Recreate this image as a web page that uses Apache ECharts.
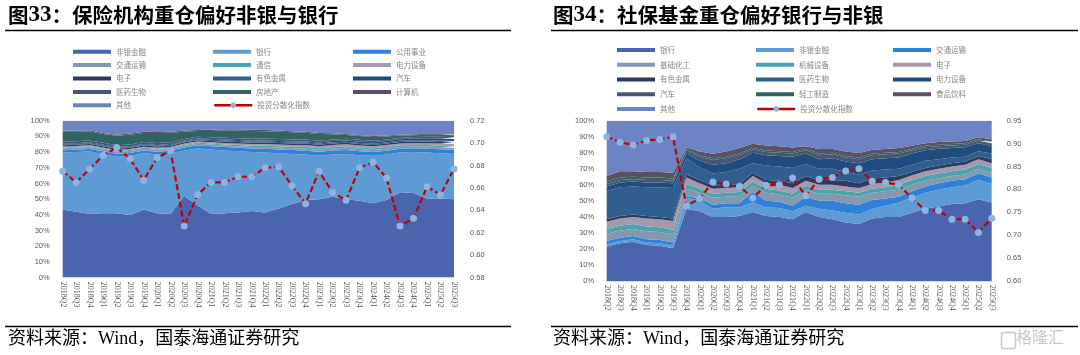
<!DOCTYPE html>
<html><head><meta charset="utf-8">
<script src="https://cdn.jsdelivr.net/npm/echarts@6/dist/echarts.min.js"></script>
<style>html,body{margin:0;padding:0;background:#fff}#c{width:1080px;height:355px}</style>
</head><body><div id="c"></div>
<script>
const quarters = ['2018Q2','2018Q3','2018Q4','2019Q1','2019Q2','2019Q3','2019Q4','2020Q1','2020Q2','2020Q3','2020Q4','2021Q1','2021Q2','2021Q3','2021Q4','2022Q1','2022Q2','2022Q3','2022Q4','2023Q1','2023Q2','2023Q3','2023Q4','2024Q1','2024Q2','2024Q3','2024Q4','2025Q1','2025Q2','2025Q3'];

// 图33 保险机构 (%)
const insNonbank     = [43.5,42,40.5,41,41,40,43.5,41,40.5,52,46,40.5,41,41.5,42.5,41.5,44,47,49.5,50,51.5,50,49,47.5,49.5,54.5,54,50.5,50.5,50];
const insBank        = [36.2,38,40,37.5,36,37.5,36,37.5,38.5,29,36.3,41.1,40,39,37.5,38.2,35.3,31.8,28.9,27.6,26.9,28.8,29,30.1,28.9,25.2,26,29.2,28.8,29];
const insUtility     = [1.5,1.5,1.5,2,2,2,1.5,1.8,1.8,2,2,2.2,2.2,2.3,2.3,2.4,2.4,2.5,2.5,2.6,2.6,2.6,2.6,2.5,2.5,2.4,2.4,2.5,2.5,2.5];
const insTransport   = [1.2,1.2,1.2,1.2,1.2,1.2,1.2,1.2,1.2,1,1,1,1,1,1,1.2,1.2,1.2,1.3,1.3,1.3,1.3,1.3,1.3,1.3,1.2,1.2,1.3,1.3,1.3];
const insTelecom     = [0.6,0.6,0.6,0.6,0.6,0.6,0.6,0.6,0.6,0.6,0.6,0.6,0.7,0.7,0.7,0.8,0.8,0.9,1,1,1,1.1,1.1,1.1,1.1,1,1,1,1,1];
const insPowerEq     = [0.6,0.6,0.6,0.6,0.6,0.6,0.6,0.7,0.7,0.8,0.8,0.9,0.9,1,1.1,1.1,1.2,1.2,1.3,1.3,1.3,1.2,1.2,1.2,1.2,1.2,1.2,1.2,1.3,1.3];
const insElectronics = [0.8,0.8,0.8,0.8,0.8,0.8,0.8,0.8,0.8,0.8,0.8,0.8,0.9,0.9,0.9,0.9,0.9,0.9,0.9,0.9,0.9,0.9,0.9,0.9,0.9,0.9,1,1,1.1,1.1];
const insMetals      = [0.5,0.5,0.5,0.5,0.5,0.5,0.5,0.5,0.5,0.5,0.6,0.7,0.7,0.7,0.7,0.7,0.7,0.7,0.7,0.7,0.7,0.7,0.7,0.7,0.7,0.8,0.8,0.9,0.9,0.9];
const insAuto        = [0.5,0.5,0.5,0.5,0.5,0.5,0.5,0.5,0.5,0.5,0.5,0.5,0.6,0.6,0.6,0.6,0.6,0.6,0.7,0.7,0.8,0.8,0.9,0.9,1,1,1,1.2,1.3,1.3];
const insPharma      = [1.2,1.2,1.2,1.2,1.2,1.2,1.2,1.2,1.2,1.2,1.2,1.2,1.2,1.2,1.2,1.2,1.2,1.2,1.2,1.2,1.1,1.1,1.1,1,1,1,1,1,1,1];
const insRealEstate  = [6.3,6.1,5.8,5.6,6.0,6.2,5.8,6.3,6.0,4.6,3.6,4.0,4.6,4.9,5.0,4.7,4.7,4.6,4.3,4.2,3.3,2.4,2.4,2.4,1.9,1.3,1.2,1.3,1.4,1.3];
const insComputer    = [0.7,0.7,0.7,0.7,0.7,0.7,0.7,0.7,0.7,0.7,0.7,0.7,0.7,0.7,0.7,0.7,0.7,0.7,0.7,0.7,0.6,0.6,0.6,0.6,0.6,0.5,0.5,0.5,0.5,0.5];
const insOther       = [6.4,6.3,6.1,7.8,8.9,8.2,7.1,7.2,7,6.3,5.9,5.8,5.5,5.5,5.8,6,6.3,6.7,7,7.8,8,8.5,9.2,9.8,9.4,9,8.7,8.4,8.4,8.8];
const insIndex       = [0.675,0.665,0.677,0.689,0.696,0.686,0.667,0.687,0.693,0.626,0.654,0.665,0.665,0.670,0.670,0.678,0.679,0.662,0.646,0.675,0.656,0.649,0.678,0.683,0.669,0.626,0.633,0.661,0.654,0.677];

// 图34 社保基金 (%)
const ssBank        = [21.5,23.5,24.5,22.5,22,20.5,45,43.5,40,40,40.5,43,40.5,40,38.5,43,40,38.5,36.5,35.5,39,40,40,42.5,45,46.5,48,48.5,51,49];
const ssNonbank     = [1.5,1.5,1.5,1.5,1.5,1.5,7,6.5,5,6,5.5,6,5.5,5.5,5,4,5,5.5,6,6,6,7,9,9.5,10,10.5,10.5,11,12,11.5];
const ssTransport   = [2,2,2,2,2,2,1,1.5,2.5,2.5,2.5,6.5,4,4,3.5,5.5,5,6,6,6,5.5,4.5,3.5,4,4,4,4,4,4,4];
const ssChem        = [4.5,4.5,4.5,5,5,5,4.5,3.5,4.5,4,4.5,3.5,5,4.5,5,4.5,4.5,4.5,5,5,4.5,4.5,4.5,4,3.5,3,3,3,3,3];
const ssMachinery   = [3,3,3,3,3,3,3,2.5,2.5,2.5,2.5,3,2.5,2.5,2.5,2.5,2.5,2.5,2.5,2.5,2.5,2.5,3,3,3,3,3,3,3,3];
const ssElectronics = [4.5,4.5,4.5,5,5,5.5,4,3.5,3,3,3,3.5,3.5,3.5,3.5,3,3,3,3,3,3,3,3,3,3,3,3,3,3,3];
const ssMetals      = [1.5,1.5,1.5,1.5,1.5,1.5,2,2,2,2,2,2,2,2.5,3,3,3,3,3.5,3,3.5,3,2.5,2,2,2,2,2,2,2.5];
const ssPharma      = [17.5,18,17.5,18,18.5,19,10,8,7.5,8,9.5,6,9,9,9.5,7.5,7,7,5.5,5.5,5,5,4.5,4.5,4.5,4,3.5,3,3,3.5];
const ssPowerEq     = [3,3,3,3,3,3,3,4,5.5,5.5,6,6.5,6.5,6.5,7,6.5,6,6.5,6.5,7,7,7,7,7,6.5,6.5,6,6,5,4.5];
const ssAuto        = [1.5,1.5,1.5,1.5,1.5,1.5,2,2.5,3,3,2.5,2,2,2,2,2,2.5,2.5,2.5,2.5,2.5,2.5,2.5,2,2,1.5,1.5,1.5,1.5,2];
const ssLight       = [1.5,1.5,1.5,1.5,1.5,1.5,1,1,1,1,1,1,1,1,1,1,1,1,1,1,1,1,1,1,1,1,1,1,1,1];
const ssFood        = [3.5,4,3.5,3.5,3.5,3.5,1,2.3,2.9,3.3,3.4,2.6,3.1,3,2.8,1.5,2.8,2.3,2.8,2.8,2.4,2.3,2.4,1.9,1.5,1.7,1.5,1.3,1.1,1.5];
const ssOther       = [34.5,31.5,31.5,32,32,32.5,16.5,19.2,20.6,19.2,17.1,14.4,15.4,16,16.7,16,17.7,17.7,19.2,20.2,18.1,17.7,17.1,15.6,14,13.3,13,12.7,10.4,11.5];
const ssIndex       = [0.915,0.903,0.897,0.907,0.909,0.915,0.764,0.780,0.816,0.812,0.807,0.781,0.809,0.810,0.825,0.786,0.822,0.826,0.840,0.845,0.818,0.815,0.810,0.781,0.754,0.754,0.735,0.735,0.706,0.737];

const layerColors = ['#4a65ad','#5e9bd4','#2e80d8','#8598b2','#4ba4aa','#a39aad','#2d3a62','#2f5e8f','#1f4b7e','#465673','#2f6462','#5b4f63','#6c84c4'];
const insNames = ['非银金融','银行','公用事业','交通运输','通信','电力设备','电子','有色金属','汽车','医药生物','房地产','计算机','其他'];
const insLayers = [insNonbank,insBank,insUtility,insTransport,insTelecom,insPowerEq,insElectronics,insMetals,insAuto,insPharma,insRealEstate,insComputer,insOther];
const ssNames = ['银行','非银金融','交通运输','基础化工','机械设备','电子','有色金属','医药生物','电力设备','汽车','轻工制造','食品饮料','其他'].map(n => n + '\u200b');
const ssLayers = [ssBank,ssNonbank,ssTransport,ssChem,ssMachinery,ssElectronics,ssMetals,ssPharma,ssPowerEq,ssAuto,ssLight,ssFood,ssOther];
const insIdxName = '投资分散化指数';
const ssIdxName = '投资分散化指数\u200b';

const chart = echarts.init(document.getElementById('c'), null, {renderer:'canvas'});
const axisLbl = {fontSize:7.5, color:'#595959', fontFamily:'Liberation Sans'};
const xLbl = {rotate:-90, interval:0, fontSize:8, color:'#595959', fontFamily:'Liberation Serif', margin:4};

function areaSeries(names, layers, colors, xi, yi, stack){
  return names.map((n,k)=>({
    name:n, type:'line', stack:stack, xAxisIndex:xi, yAxisIndex:yi,
    data:layers[k], symbol:'none', lineStyle:{width:0}, areaStyle:{opacity:1, color:colors[k]},
    itemStyle:{color:colors[k]}, emphasis:{disabled:true}, z:2
  }));
}
function idxSeries(name, data, xi, yi){
  return {name:name, type:'line', xAxisIndex:xi, yAxisIndex:yi, data:data,
    symbol:'circle', symbolSize:7, itemStyle:{color:'#8db4e2'},
    lineStyle:{color:'#c00000', width:2.2, type:[6,3]}, emphasis:{disabled:true}, z:5};
}
const legTxt = {fontSize:7.5, color:'#858585', fontFamily:'Noto Sans CJK SC', lineHeight:10};
function colLegend(names, left, top, gap){
  return {orient:'vertical', left:left, top:top, padding:0, itemGap:gap, itemWidth:38, itemHeight:4,
    selectedMode:false, textStyle:legTxt, formatter:n=>n.replace('\u200b',''),
    data:names.map(n=>({name:n, icon:'rect'}))};
}
function lineLegend(name, left, top){
  return {orient:'vertical', left:left, top:top, padding:0, itemWidth:38, itemHeight:7,
    selectedMode:false, textStyle:legTxt, formatter:n=>n.replace('\u200b',''),
    lineStyle:{type:'solid', width:2.5, color:'#c00000'}, data:[{name:name}]};
}
const g = 3.4, g2 = 4.75;
const titleRich = {
  a:{fontSize:20.5, fontWeight:'bold', fontFamily:'Noto Sans CJK SC', color:'#000'},
  b:{fontSize:23, fontWeight:'bold', fontFamily:'Liberation Serif', color:'#000'}
};
const srcFont = {fontSize:18, fontFamily:'"Liberation Serif","Noto Sans CJK SC"', fill:'#000'};

chart.setOption({
  animation:false,
  title:[
    {left:8, top:4, padding:0, text:'{a|图}{b|33}{a|：保险机构重仓偏好非银与银行}', textStyle:{rich:titleRich}},
    {left:553, top:4, padding:0, text:'{a|图}{b|34}{a|：社保基金重仓偏好银行与非银}', textStyle:{rich:titleRich}}
  ],
  legend:[
    colLegend([insNames[0],insNames[3],insNames[6],insNames[9],insNames[12]], 73, 46.7, g),
    colLegend([insNames[1],insNames[4],insNames[7],insNames[10]], 213, 46.7, g),
    colLegend([insNames[2],insNames[5],insNames[8],insNames[11]], 353, 46.7, g),
    lineLegend(insIdxName, 213, 100.3),
    colLegend([ssNames[0],ssNames[3],ssNames[6],ssNames[9],ssNames[12]], 617, 45, g2),
    colLegend([ssNames[1],ssNames[4],ssNames[7],ssNames[10]], 756, 45, g2),
    colLegend([ssNames[2],ssNames[5],ssNames[8],ssNames[11]], 893, 45, g2),
    lineLegend(ssIdxName, 756, 104)
  ],
  grid:[
    {left:62.7, top:120.7, width:391.3, height:157},
    {left:606.7, top:120.7, width:385, height:160.3}
  ],
  xAxis:[
    {type:'category', gridIndex:0, data:quarters, boundaryGap:false, axisTick:{show:false},
     axisLine:{lineStyle:{color:'#d9d9d9'}}, axisLabel:xLbl, splitLine:{show:false}, z:10},
    {type:'category', gridIndex:1, data:quarters, boundaryGap:false, axisTick:{show:false},
     axisLine:{lineStyle:{color:'#d9d9d9'}}, axisLabel:xLbl, splitLine:{show:false}, z:10}
  ],
  yAxis:[
    {type:'value', gridIndex:0, min:0, max:100, interval:10, splitLine:{show:false}, axisLine:{show:false},
     axisLabel:Object.assign({formatter:'{value}%', margin:13}, axisLbl)},
    {type:'value', gridIndex:0, position:'right', min:0.58, max:0.72, interval:0.02, splitLine:{show:false}, axisLine:{show:false},
     axisLabel:Object.assign({formatter:v=>v.toFixed(2), margin:16}, axisLbl)},
    {type:'value', gridIndex:1, min:0, max:100, interval:10, splitLine:{show:false}, axisLine:{show:false},
     axisLabel:Object.assign({formatter:'{value}%', margin:12.5}, axisLbl)},
    {type:'value', gridIndex:1, position:'right', min:0.6, max:0.95, interval:0.05, splitLine:{show:false}, axisLine:{show:false},
     axisLabel:Object.assign({formatter:v=>v.toFixed(2), margin:15}, axisLbl)}
  ],
  series:[].concat(
    areaSeries(insNames, insLayers, layerColors, 0, 0, 'ins'),
    [idxSeries(insIdxName, insIndex, 0, 1)],
    areaSeries(ssNames, ssLayers, layerColors, 1, 2, 'ss'),
    [idxSeries(ssIdxName, ssIndex, 1, 3)]
  ),
  graphic:[
    {type:'line', shape:{x1:5,y1:30.5,x2:511,y2:30.5}, style:{stroke:'#000', lineWidth:1.5}},
    {type:'line', shape:{x1:551,y1:30.5,x2:1078,y2:30.5}, style:{stroke:'#000', lineWidth:1.5}},
    {type:'line', shape:{x1:5,y1:326.5,x2:511,y2:326.5}, style:{stroke:'#000', lineWidth:1.5}},
    {type:'line', shape:{x1:551,y1:326.5,x2:1078,y2:326.5}, style:{stroke:'#000', lineWidth:1.5}},
    {type:'text', left:8, top:330.5, style:Object.assign({text:'资料来源：Wind，国泰海通证券研究'}, srcFont)},
    {type:'text', left:553, top:330.5, style:Object.assign({text:'资料来源：Wind，国泰海通证券研究'}, srcFont)},
    {type:'rect', left:999, top:330, shape:{width:14, height:16, r:2}, style:{fill:'none', stroke:'#c8c8c8', lineWidth:1.5}},
    {type:'text', left:1016, top:329, style:{text:'格隆汇', fontSize:16, fontFamily:'Noto Sans CJK SC', fill:'#c8c8c8'}}
  ]
});
</script>
</body></html>
